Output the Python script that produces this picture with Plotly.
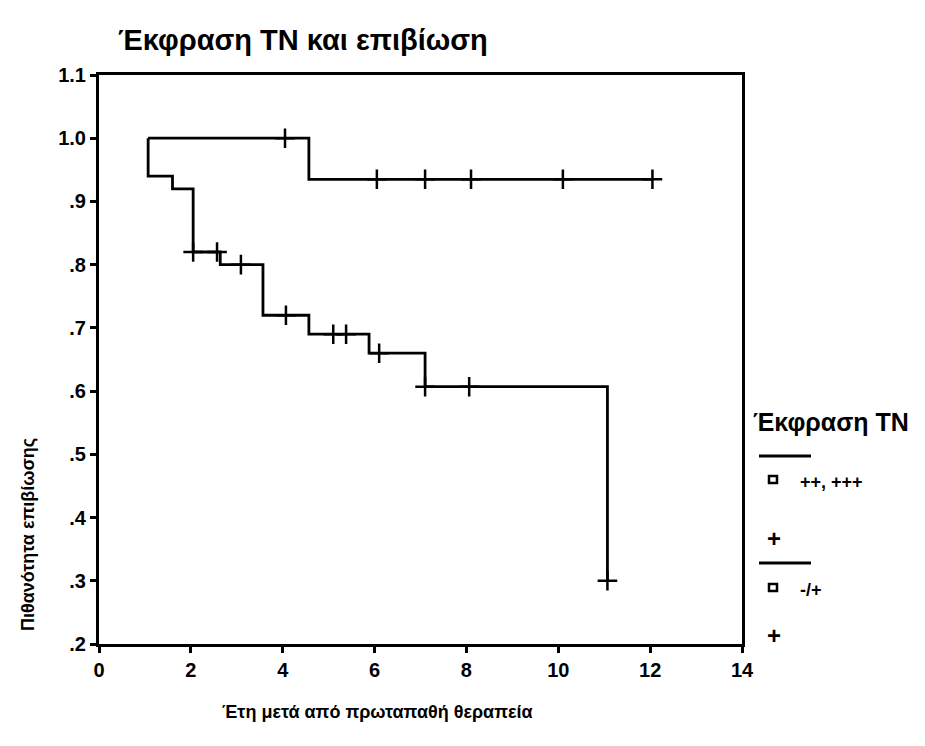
import plotly.graph_objects as go

# ---- data ----
hi_times = [1.07, 4.57, 12.05]
hi_surv = [1.0, 0.935, 0.935]
hi_cens_t = [4.05, 6.05, 7.10, 8.10, 10.10, 12.05]
hi_cens_s = [1.0, 0.935, 0.935, 0.935, 0.935, 0.935]

lo_times = [1.07, 1.07, 1.60, 2.05, 2.64, 3.57, 4.57, 5.88, 7.10, 11.07]
lo_surv = [1.0, 0.94, 0.92, 0.82, 0.80, 0.72, 0.69, 0.66, 0.607, 0.30]
lo_cens_t = [2.05, 2.57, 3.09, 4.07, 5.10, 5.38, 6.10, 7.10, 8.06, 11.07]
lo_cens_s = [0.82, 0.82, 0.80, 0.72, 0.69, 0.69, 0.66, 0.607, 0.607, 0.30]

x_ticks = [0, 2, 4, 6, 8, 10, 12, 14]
y_ticks = [1.1, 1.0, 0.9, 0.8, 0.7, 0.6, 0.5, 0.4, 0.3, 0.2]
y_ticklabels = ["1.1", "1.0", ".9", ".8", ".7", ".6", ".5", ".4", ".3", ".2"]

title_text = "Έκφραση ΤΝ και επιβίωση"
x_title = "Έτη μετά από πρωταπαθή θεραπεία"
y_title = "Πιθανότητα επιβίωσης"
legend_title = "Έκφραση ΤΝ"
group_labels = ["++, +++", "-/+"]

FONT = "Liberation Sans, Arial, sans-serif"
BLACK = "#000000"

fig = go.Figure()

for t, s in [(hi_times, hi_surv), (lo_times, lo_surv)]:
    fig.add_trace(go.Scatter(x=t, y=s, mode="lines", line_shape="hv",
                             line=dict(color=BLACK, width=2.8),
                             showlegend=False, hoverinfo="skip"))

for t, s in [(hi_cens_t, hi_cens_s), (lo_cens_t, lo_cens_s)]:
    fig.add_trace(go.Scatter(x=t, y=s, mode="markers",
                             marker=dict(symbol="cross-thin", size=14,
                                         line=dict(color=BLACK, width=2.5)),
                             showlegend=False, hoverinfo="skip"))

tickfont = dict(size=20, family=FONT, color=BLACK, weight="bold")
fig.update_layout(
    width=925, height=746,
    margin=dict(l=91, r=191, t=67, b=110),
    paper_bgcolor="white", plot_bgcolor="white",
    font=dict(family=FONT, color=BLACK),
    xaxis=dict(range=[0, 14], tickvals=x_ticks, ticktext=[str(v) for v in x_ticks],
               showgrid=False, zeroline=False, showline=True, linecolor=BLACK,
               linewidth=3, mirror=True, ticks="outside", ticklen=6,
               tickwidth=2.5, tickcolor=BLACK, tickfont=tickfont),
    yaxis=dict(range=[0.2, 1.1], tickvals=y_ticks, ticktext=y_ticklabels,
               showgrid=False, zeroline=False, showline=True, linecolor=BLACK,
               linewidth=3, mirror=True, ticks="outside", ticklen=6,
               tickwidth=2.5, tickcolor=BLACK, tickfont=tickfont),
)


def px_x(px):
    return (px - 99) / 643.0


def px_y(py):
    return (644 - py) / 569.0


annotations = [
    dict(text=title_text, x=px_x(116), y=px_y(40), xanchor="left", yanchor="middle",
         font=dict(size=29, family=FONT, color=BLACK, weight="bold")),
    dict(text=x_title, x=px_x(377), y=px_y(712), xanchor="center", yanchor="middle",
         font=dict(size=18, family=FONT, color=BLACK, weight="bold")),
    dict(text=y_title, x=px_x(28), y=px_y(535), xanchor="center", yanchor="middle",
         textangle=-90, font=dict(size=18, family=FONT, color=BLACK, weight="bold")),
    dict(text=legend_title, x=px_x(751), y=px_y(422), xanchor="left", yanchor="middle",
         font=dict(size=25, family=FONT, color=BLACK, weight="bold")),
]

shapes = []
leg_rows = [(456, 480, 538), (563, 588, 635)]
for (line_y, lab_y, cens_y), lab in zip(leg_rows, group_labels):
    shapes.append(dict(type="line", xref="paper", yref="paper",
                       x0=px_x(759), x1=px_x(811), y0=px_y(line_y), y1=px_y(line_y),
                       line=dict(color=BLACK, width=2.8)))
    shapes.append(dict(type="rect", xref="paper", yref="paper",
                       x0=px_x(769), x1=px_x(777), y0=px_y(lab_y - 4), y1=px_y(lab_y + 3),
                       line=dict(color=BLACK, width=2.5)))
    annotations.append(dict(text=lab, x=px_x(798), y=px_y(lab_y + 2), xanchor="left",
                            yanchor="middle",
                            font=dict(size=18, family=FONT, color=BLACK, weight="bold")))
    annotations.append(dict(text="+", x=px_x(774), y=px_y(cens_y), xanchor="center",
                            yanchor="middle",
                            font=dict(size=24, family=FONT, color=BLACK, weight="bold")))

for a in annotations:
    a.update(xref="paper", yref="paper", showarrow=False)

fig.update_layout(annotations=annotations, shapes=shapes)

fig.write_html("out.html")
